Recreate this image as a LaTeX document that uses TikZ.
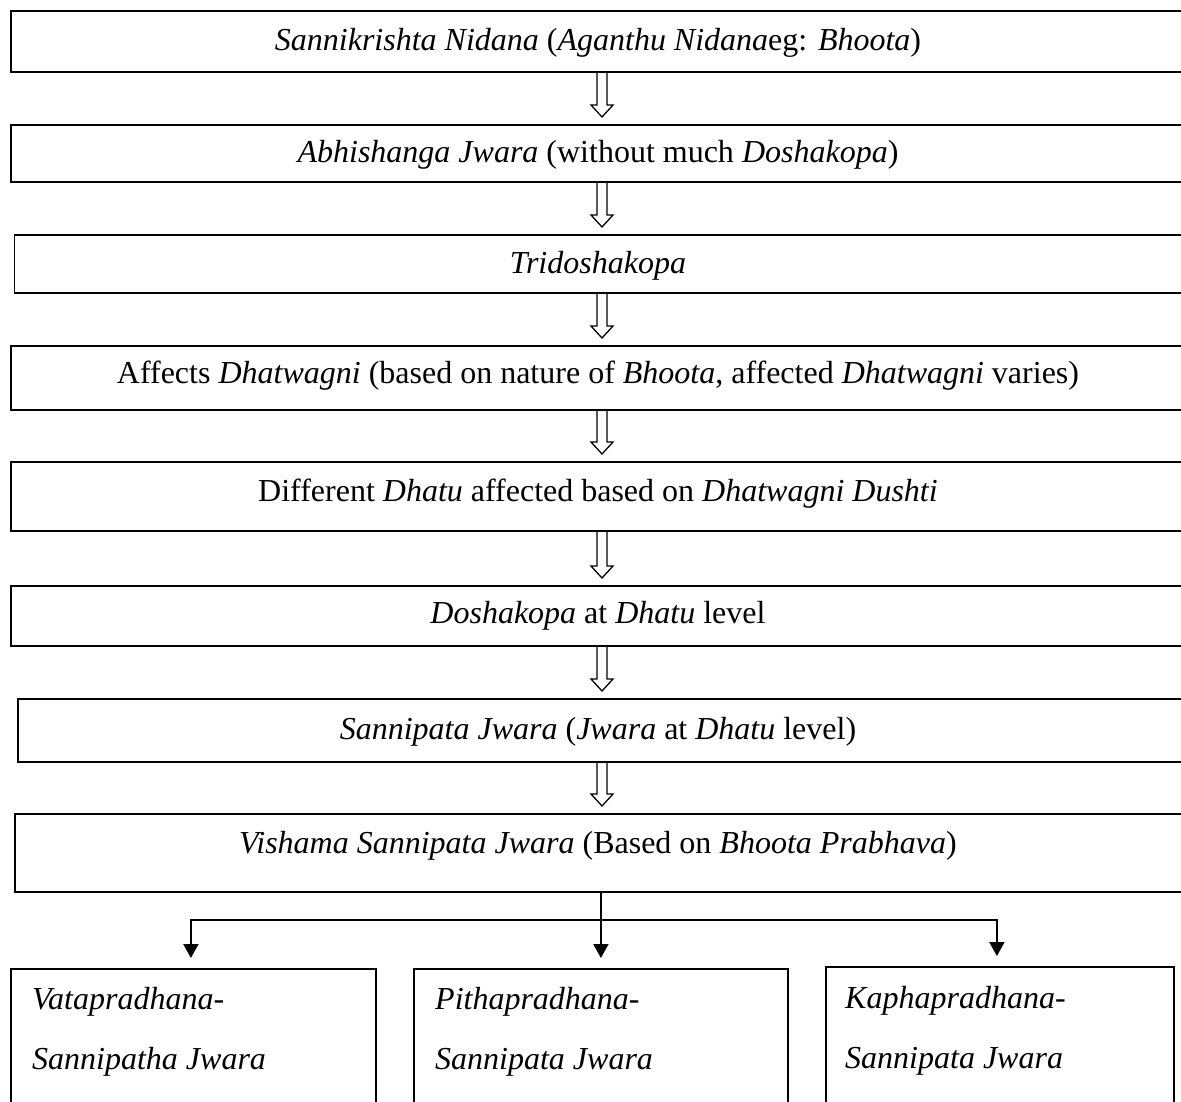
\documentclass[tikz,border=0pt]{standalone}
\usepackage{fontspec}
\setmainfont{Liberation Serif}
\usetikzlibrary{calc,arrows.meta}
\begin{document}
\begin{tikzpicture}[x=1pt,y=-1pt,
  txt/.style={font=\fontsize{32}{38}\selectfont},
  box/.style={draw, line width=1.8pt, rectangle, inner sep=0pt, anchor=north west},
  ctext/.style={txt, anchor=base, inner sep=0pt},
  harrow/.style={line width=1.3pt, line join=miter},
  branch/.style={line width=2pt},
  tipped/.style={branch, -{Triangle[width=15pt,length=14pt]}, shorten >=10pt},
  lbl/.style={txt, anchor=base west, inner sep=0pt}]
\useasboundingbox (0,0) rectangle (1181,1102);
\fill[white] (0,0) rectangle (1181,1102);
\coordinate (ax) at (602,0);

\node[box, minimum width=1177pt, minimum height=61pt] (b1) at (10,10) {};
\node[box, minimum width=1177pt, minimum height=57pt] (b2) at (10,124) {};
\node[box, minimum width=1173pt, minimum height=58pt] (b3) at (13.5,234) {};
\node[box, minimum width=1177pt, minimum height=64pt] (b4) at (10,345) {};
\node[box, minimum width=1177pt, minimum height=69pt] (b5) at (10,461) {};
\node[box, minimum width=1177pt, minimum height=60pt] (b6) at (10,585) {};
\node[box, minimum width=1170pt, minimum height=63pt] (b7) at (17,698) {};
\node[box, minimum width=1173pt, minimum height=78pt] (b8) at (14,813) {};

\node[ctext] (t1) at (598,51)
  {\textit{Sannikrishta Nidana} (\textit{Aganthu Nidana}eg: \textit{Bhoota})};
\node[ctext] (t2) at (598,163)
  {\textit{Abhishanga Jwara} (without much \textit{Doshakopa})};
\node[ctext] (t3) at (598,273)
  {\textit{Tridoshakopa}};
\node[ctext] (t4) at (598,383)
  {Affects \textit{Dhatwagni} (based on nature of \textit{Bhoota}, affected \textit{Dhatwagni} varies)};
\node[ctext] (t5) at (598,501)
  {Different \textit{Dhatu} affected based on \textit{Dhatwagni Dushti}};
\node[ctext] (t6) at (598,623)
  {\textit{Doshakopa} at \textit{Dhatu} level};
\node[ctext] (t7) at (598,739)
  {\textit{Sannipata Jwara} (\textit{Jwara} at \textit{Dhatu} level)};
\node[ctext] (t8) at (598,853)
  {\textit{Vishama Sannipata Jwara} (Based on \textit{Bhoota Prabhava})};

\node[box, minimum width=365pt, minimum height=160pt] (v) at (10,968) {};
\node[box, minimum width=374pt, minimum height=160pt] (p) at (413,968) {};
\node[box, minimum width=348pt, minimum height=160pt] (k) at (825,966) {};
\node[lbl] (v1) at ($(v.north west)+(22,41)$) {\textit{Vatapradhana-}};
\node[lbl] (v2) at ($(v.north west)+(22,101)$) {\textit{Sannipatha Jwara}};
\node[lbl] (p1) at ($(p.north west)+(22,41)$) {\textit{Pithapradhana-}};
\node[lbl] (p2) at ($(p.north west)+(22,101)$) {\textit{Sannipata Jwara}};
\node[lbl] (k1) at ($(k.north west)+(20,42)$) {\textit{Kaphapradhana-}};
\node[lbl] (k2) at ($(k.north west)+(20,102)$) {\textit{Sannipata Jwara}};

\newcommand{\hollowarrow}[2]{%
  \draw[harrow] ($(#1.south -| ax)+(-5,0)$) -- ($(#2.north -| ax)+(-5,-19)$)
    -- ($(#2.north -| ax)+(-11,-19)$) -- ($(#2.north -| ax)+(0,-7)$)
    -- ($(#2.north -| ax)+(11,-19)$) -- ($(#2.north -| ax)+(5,-19)$)
    -- ($(#1.south -| ax)+(5,0)$);}
\hollowarrow{b1}{b2}
\hollowarrow{b2}{b3}
\hollowarrow{b3}{b4}
\hollowarrow{b4}{b5}
\hollowarrow{b5}{b6}
\hollowarrow{b6}{b7}
\hollowarrow{b7}{b8}

\coordinate (j) at ($(b8.south -| p.north)+(0,27)$);
\draw[tipped] (b8.south -| p.north) -- (p.north);
\draw[branch] (j) -- ($(j -| v.north)+(-3.5,0)$);
\draw[branch] (j) -- ($(j -| k.north)+(-4,0)$);
\draw[tipped] ($(j -| v.north)+(-2.5,-1)$) -- ($(v.north)+(-2.5,0)$);
\draw[tipped] ($(j -| k.north)+(-3,-1)$) -- ($(k.north)+(-3,0)$);
\end{tikzpicture}
\end{document}
